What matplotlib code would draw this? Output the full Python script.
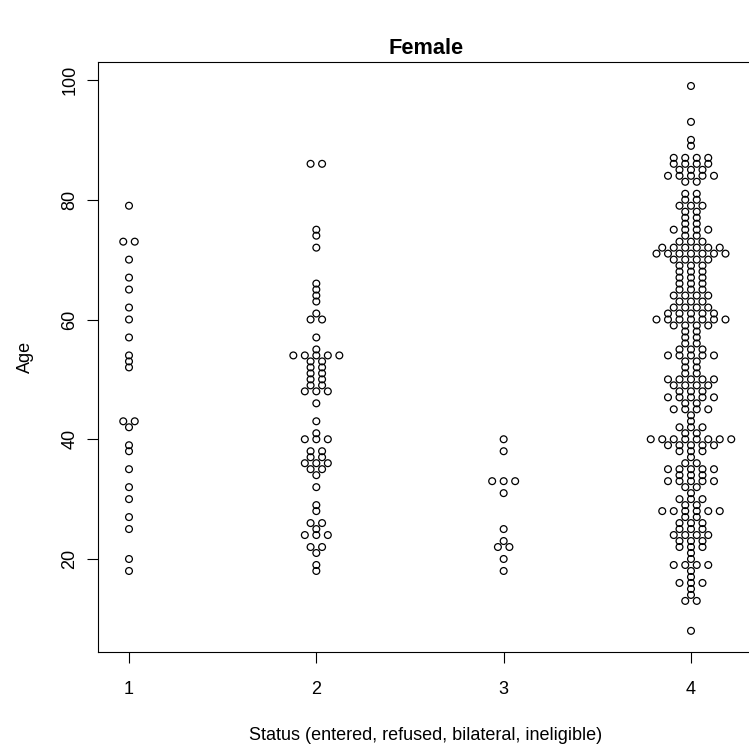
import numpy as np
import matplotlib
matplotlib.use("Agg")
import matplotlib.pyplot as plt

plt.rcParams['font.family'] = ['Liberation Sans', 'DejaVu Sans']

# ---- data (ages per status group) ----
status_ticks = [1, 2, 3, 4]
status_labels = ["1", "2", "3", "4"]

ages_entered = [79, 73, 73, 70, 67, 65, 62, 60, 57, 54, 53, 52, 43, 43, 42,
                39, 38, 35, 32, 30, 27, 25, 20, 18]

ages_refused = [86, 86, 75, 74, 72, 66, 65, 64, 63, 61, 60, 60, 57, 55,
                54, 54, 54, 54, 54, 53, 53, 52, 52, 51, 51, 50, 50, 49, 49,
                48, 48, 48, 46, 43, 41, 40, 40, 40, 38, 38, 37, 37,
                36, 36, 36, 35, 35, 34, 32, 29, 28, 26, 26, 25, 24, 24, 24,
                22, 22, 21, 19, 18]

ages_bilateral = [40, 38, 33, 33, 33, 31, 25, 23, 22, 22, 20, 18]

ineligible_age = [99, 93, 90, 89, 87, 86, 85, 84, 83, 81, 80, 79, 78, 77, 76,
                  75, 74, 73, 72, 71, 70, 69, 68, 67, 66, 65, 64, 63, 62, 61,
                  60, 59, 58, 57, 56, 55, 54, 53, 52, 51, 50, 49, 48, 47, 46,
                  45, 44, 43, 42, 41, 40, 39, 38, 37, 36, 35, 34, 33, 32, 31,
                  30, 29, 28, 27, 26, 25, 24, 23, 22, 21, 20, 19, 18, 17, 16,
                  15, 14, 13, 8]
ineligible_count = [1, 1, 1, 1, 4, 4, 3, 5, 2, 2, 2, 3, 2, 2, 2,
                    4, 2, 3, 6, 7, 4, 3, 3, 3, 3, 3, 4, 3, 4, 5,
                    7, 4, 2, 2, 2, 3, 5, 2, 2, 2, 5, 4, 3, 5, 2,
                    4, 1, 1, 3, 2, 8, 5, 3, 1, 2, 5, 3, 5, 2, 1,
                    3, 2, 6, 2, 3, 3, 4, 3, 3, 1, 1, 4, 1, 1, 3,
                    1, 1, 2, 1]
ages_ineligible = np.repeat(ineligible_age, ineligible_count)

groups = [ages_entered, ages_refused, ages_bilateral, ages_ineligible]

# ---- beeswarm "center" layout ----
W, H = 749, 749
px_per_x = 187.33
dx = 11.5 / px_per_x


def center_swarm(values, xc, step):
    vals = np.asarray(values, dtype=float)
    xs, ys = [], []
    for v in np.unique(vals):
        n = int(np.sum(vals == v))
        offs = np.arange(n) - (n - 1) / 2.0
        xs.extend(xc + offs * step)
        ys.extend([v] * n)
    return np.array(xs), np.array(ys)


fig = plt.figure(figsize=(W / 100, H / 100), dpi=100)
left, right, top, bottom = 98, 754, 62, 652
ax = fig.add_axes([left / W, (H - bottom) / H, (right - left) / W, (bottom - top) / H])

for xc, vals in zip(status_ticks, groups):
    xs, ys = center_swarm(vals, xc, dx)
    ax.scatter(xs, ys, s=24, facecolors='none', edgecolors='black',
               linewidths=0.9, clip_on=False, zorder=3)

x0 = 1 - (129 - left) / px_per_x
ax.set_xlim(x0, x0 + (right - left) / px_per_x)
py = (559 - 80) / 80.0
ax.set_ylim(20 - (bottom - 559) / py, 100 + (80 - top) / py)

ax.set_xticks(status_ticks)
ax.set_xticklabels(status_labels)
ax.set_yticks([20, 40, 60, 80, 100])
ax.set_yticklabels(["20", "40", "60", "80", "100"], rotation=90, va='center')

for sp in ax.spines.values():
    sp.set_linewidth(0.8)
    sp.set_color('black')

ax.tick_params(axis='both', direction='out', length=7.9, width=0.8,
               labelsize=13, colors='black')
ax.tick_params(axis='x', pad=13.3)
ax.tick_params(axis='y', pad=6.4)

fig.text(426 / W, 1 - 48 / H, "Female", ha='center', va='center',
         fontsize=15.7, fontweight='bold')
fig.text(426 / W, 1 - 735 / H, "Status (entered, refused, bilateral, ineligible)",
         ha='center', va='center', fontsize=13)
fig.text(25 / W, 1 - 357 / H, "Age", ha='center', va='center',
         fontsize=13, rotation=90)

fig.savefig("out.png", dpi=100)
